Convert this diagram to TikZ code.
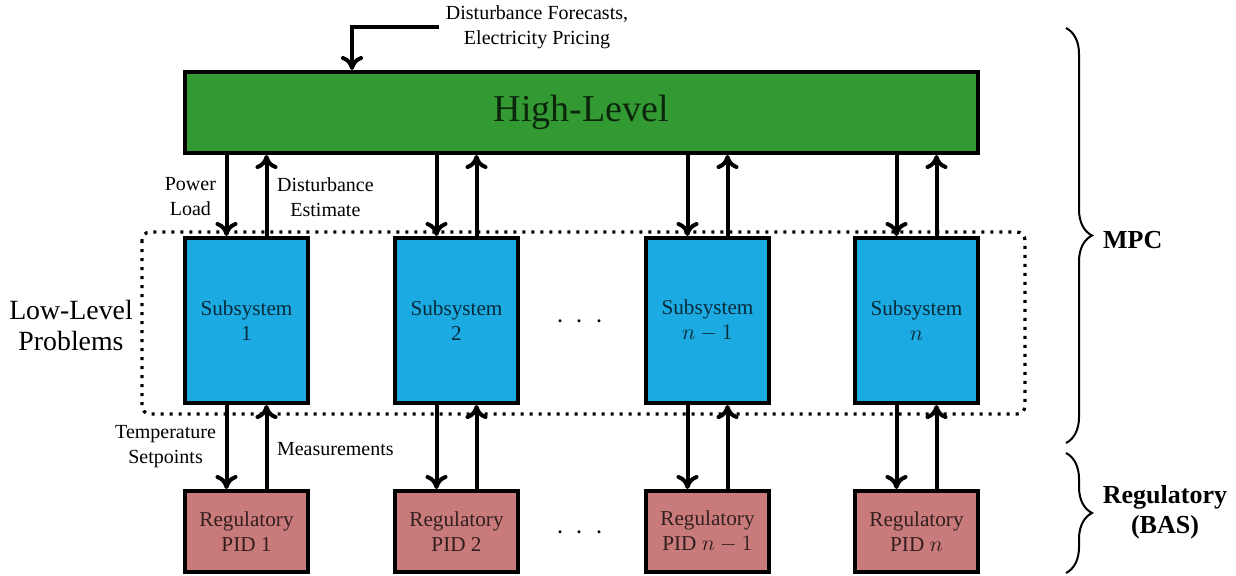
\documentclass[tikz,border=0pt]{standalone}
\usepackage[no-math]{fontspec}
\setmainfont{Liberation Serif}
\usetikzlibrary{arrows.meta,decorations.pathreplacing}
\definecolor{hlgreen}{RGB}{51,153,51}
\definecolor{llblue}{RGB}{27,170,226}
\definecolor{pidred}{RGB}{201,123,123}
\tikzset{
	>={To[length=7pt,width=11pt]},
	blk/.style={draw, line width=2pt, text opacity=0.75, align=center, inner sep=0pt},
	arr/.style={->, line width=2pt},
	lbl/.style={font=\fontsize{10}{12.5}\selectfont, align=center},
	big/.style={font=\fontsize{13}{15}\selectfont, align=center},
	brc/.style={decorate, decoration={brace, amplitude=13pt}, line width=1pt}
}

\begin{document}
\begin{tikzpicture}[x=0.5pt,y=-0.5pt]
\useasboundingbox (0,0) rectangle (1236,575);
\node[blk, fill=hlgreen, minimum width=396.5pt, minimum height=40.5pt, font=\fontsize{19}{22}\selectfont] (high) at (581.5,112.5) {High-Level};
\foreach \i/\x/\t in {1/246.5/1, 2/456.5/2, 3/707.5/$n-1$, 4/916.5/$n$}
{
	\node[blk, fill=llblue, minimum width=61.5pt, minimum height=82.5pt, font=\fontsize{10.6}{12.5}\selectfont] (sub\i) at (\x,320.5) {Subsystem\\\t};
	\node[blk, fill=pidred, minimum width=61.5pt, minimum height=40.5pt, font=\fontsize{10.6}{12.5}\selectfont] (pid\i) at (\x,531.5) {Regulatory\\PID \t};
	\draw [arr] ([xshift=-10pt]sub\i.north |- high.south) -- ([xshift=-10pt]sub\i.north);
	\draw [arr] ([xshift=10pt]sub\i.north) -- ([xshift=10pt]sub\i.north |- high.south);
	\draw [arr] ([xshift=-10pt]sub\i.south) -- ([xshift=-10pt]pid\i.north);
	\draw [arr] ([xshift=10pt]pid\i.north) -- ([xshift=10pt]sub\i.south);
}
\draw [line width=1.6pt, dash pattern=on 1.6pt off 2.9pt, rounded corners=4pt] (142,232) rectangle (1025,414);
\node[lbl] (fcst) at (537,27) {Disturbance Forecasts,\\Electricity Pricing};
\coordinate (fin) at (352,0);
\draw [arr] (fcst.west) -| (fin |- high.north);
\node[lbl, anchor=east] (pwr) at (223,197) {Power\\Load};
\node[lbl, anchor=west] (dest) at (270,197) {Disturbance\\Estimate};
\node[lbl, anchor=east] (tset) at (223,447) {Temperature\\Setpoints};
\node[lbl, anchor=west] (meas) at (270,449) {Measurements};
\node[big, font=\fontsize{13.9}{15.5}\selectfont] (low) at (71,325) {Low-Level\\Problems};
\node[font=\Large] (dots1) at (580,322) {$\cdot$\hspace{6pt}$\cdot$\hspace{6pt}$\cdot$};
\node[font=\Large] (dots2) at (580,533) {$\cdot$\hspace{6pt}$\cdot$\hspace{6pt}$\cdot$};
\draw [brc] (1066,28) -- (1066,443);
\draw [brc] (1066,453) -- (1066,573);
\node[big, anchor=west, font=\fontsize{13}{15}\selectfont\bfseries] (mpc) at (1096,240) {MPC};
\node[big, font=\fontsize{13}{15}\selectfont\bfseries] (bas) at (1165,512) {Regulatory\\(BAS)};
\end{tikzpicture}
\end{document}
